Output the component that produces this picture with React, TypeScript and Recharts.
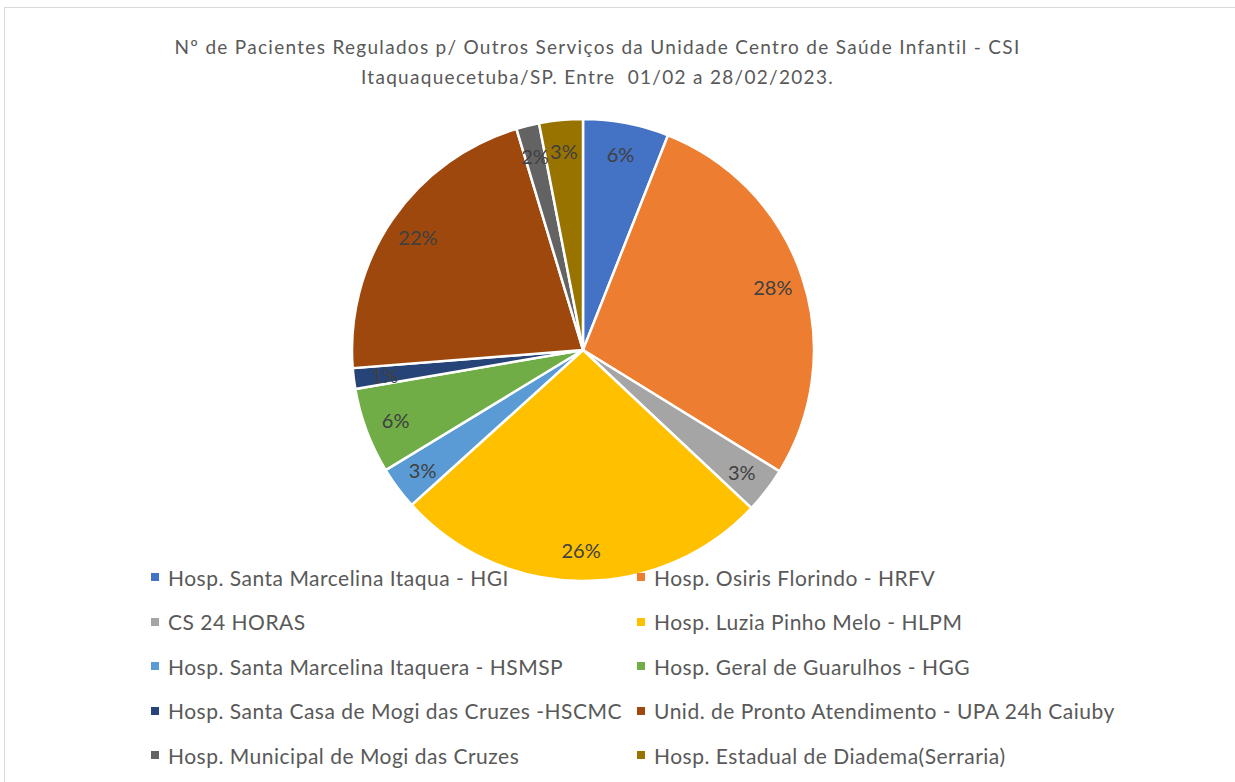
import { PieChart, Pie, Cell, Legend } from 'recharts';

const TITLE_LINES = [
  'Nº de Pacientes Regulados p/ Outros Serviços da Unidade Centro de Saúde Infantil - CSI',
  'Itaquaquecetuba/SP. Entre  01/02 a 28/02/2023.',
];

const SERVICES = [
  'Hosp. Santa Marcelina Itaqua - HGI',
  'Hosp. Osiris Florindo - HRFV',
  'CS 24 HORAS',
  'Hosp. Luzia Pinho Melo - HLPM',
  'Hosp. Santa Marcelina Itaquera - HSMSP',
  'Hosp. Geral de Guarulhos - HGG',
  'Hosp. Santa Casa de Mogi das Cruzes -HSCMC',
  'Unid. de Pronto Atendimento - UPA 24h Caiuby',
  'Hosp. Municipal de Mogi das Cruzes',
  'Hosp. Estadual de Diadema(Serraria)',
];

// share of patients (%)
const SHARES = [6.0, 27.8, 3.2, 26.3, 3.0, 6.0, 1.45, 21.6, 1.6, 3.05];

const COLORS = [
  '#4472C4',
  '#ED7D31',
  '#A5A5A5',
  '#FFC000',
  '#5B9BD5',
  '#70AD47',
  '#264478',
  '#9E480E',
  '#636363',
  '#997300',
];

const FONT = 'Lato, "Open Sans", sans-serif';

const data = SERVICES.map((name, i) => ({ name, value: SHARES[i] }));

const RAD = Math.PI / 180;

function renderLabel(props: any) {
  const { cx, cy, midAngle, percent } = props;
  const r = 200;
  const x = cx + r * Math.cos(-midAngle * RAD);
  const y = cy + r * Math.sin(-midAngle * RAD);
  return (
    <text
      x={x}
      y={y}
      fill="#404040"
      fontSize={20}
      fontFamily={FONT}
      textAnchor="middle"
      dominantBaseline="central"
    >
      {`${Math.round(percent * 100)}%`}
    </text>
  );
}

function renderLegend(props: any) {
  // keep the series order, not the alphabetical one
  const items = [...(props.payload || [])].sort(
    (a: any, b: any) => SERVICES.indexOf(a.value) - SERVICES.indexOf(b.value)
  );
  return (
    <div
      style={{
        display: 'grid',
        gridTemplateColumns: '486px 510px',
        fontFamily: FONT,
        fontSize: 21,
        letterSpacing: 0.5,
        color: '#595959',
      }}
    >
      {items.map((entry: any, index: number) => (
        <div
          key={`legend-${index}`}
          style={{ display: 'flex', alignItems: 'center', height: 44.5, whiteSpace: 'nowrap' }}
        >
          <span
            style={{
              display: 'inline-block',
              width: 8,
              height: 8,
              backgroundColor: entry.color,
              marginRight: 9,
            }}
          />
          {entry.value}
        </div>
      ))}
    </div>
  );
}

export default function App() {
  return (
    <div
      style={{
        position: 'absolute',
        left: 0,
        top: 0,
        width: 1235,
        height: 782,
        background: '#fff',
        overflow: 'hidden',
      }}
    >
      <div
        style={{
          position: 'absolute',
          left: 4,
          top: 7,
          width: 1240,
          height: 790,
          border: '1px solid #d9d9d9',
        }}
      />
      <div
        style={{
          position: 'absolute',
          left: 0,
          top: 32,
          width: 1195,
          textAlign: 'center',
          fontFamily: FONT,
          fontSize: 19,
          letterSpacing: 1.3,
          lineHeight: '30px',
          color: '#595959',
        }}
      >
        {TITLE_LINES.map((line, i) => (
          <div key={i} style={{ whiteSpace: 'pre' }}>
            {line}
          </div>
        ))}
      </div>
      <div style={{ position: 'absolute', left: 0, top: 0 }}>
        <PieChart width={1235} height={782} margin={{ top: 0, right: 0, bottom: 0, left: 0 }}>
          <Pie
            data={data}
            dataKey="value"
            nameKey="name"
            cx={583}
            cy={350}
            outerRadius={231}
            startAngle={90}
            endAngle={-270}
            stroke="#fff"
            strokeWidth={2.5}
            labelLine={false}
            label={renderLabel}
            isAnimationActive={false}
          >
            {data.map((entry, index) => (
              <Cell key={`cell-${index}`} fill={COLORS[index % COLORS.length]} />
            ))}
          </Pie>
          <Legend
            content={renderLegend}
            wrapperStyle={{ position: 'absolute', left: 151, top: 555, width: 1000 }}
          />
        </PieChart>
      </div>
    </div>
  );
}
